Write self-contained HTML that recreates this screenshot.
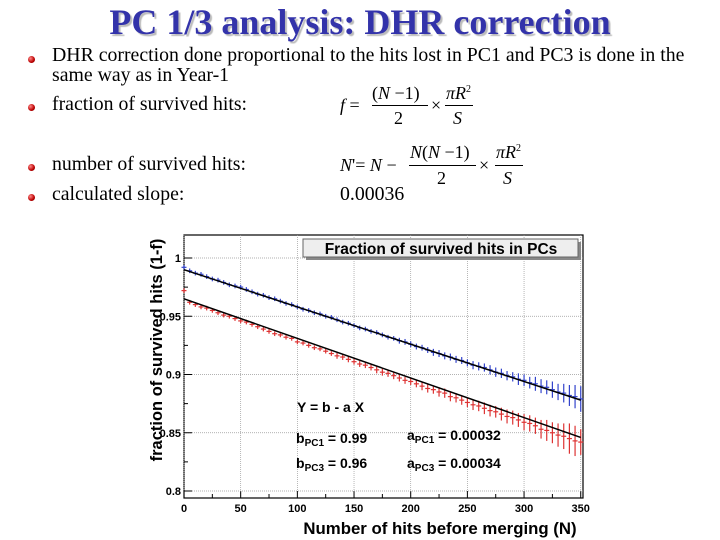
<!DOCTYPE html>
<html><head><meta charset="utf-8"><style>
body{margin:0;width:720px;height:540px;background:#fff;position:relative;overflow:hidden;font-family:"Liberation Serif",serif}
.t{position:absolute;white-space:nowrap;color:#000}
.b{position:absolute;width:7px;height:7px;border-radius:50%;background:radial-gradient(circle at 35% 35%,#f88,#b00 60%,#600)}
.txt{font-size:19.8px;left:52px}
.m{font-family:"Liberation Serif",serif;font-size:18px}
</style></head><body>
<div class="t" style="left:0;width:720px;text-align:center;top:2px;font-size:36px;font-weight:bold;color:#3333aa;text-shadow:2px 2px 1px #bbb;line-height:40px">PC 1/3 analysis: DHR correction</div>
<div class="b" style="left:28px;top:56px"></div>
<div class="t txt" style="top:45px;line-height:20px">DHR correction done proportional to the hits lost in PC1 and PC3 is done in the<br>same way as in Year-1</div>
<div class="b" style="left:28px;top:104px"></div>
<div class="t txt" style="top:93px">fraction of survived hits:</div>
<div class="b" style="left:28px;top:164px"></div>
<div class="t txt" style="top:153px">number of survived hits:</div>
<div class="b" style="left:28px;top:194px"></div>
<div class="t txt" style="top:183px">calculated slope:</div>
<div class="t" style="left:340px;top:183px;font-size:19.8px">0.00036</div>

<div>
<div class="t m" style="left:340px;top:95px"><i>f</i> =</div>
<div class="t m" style="left:372px;top:83px">(<i>N</i> −1)</div>
<div class="t" style="left:372px;top:105px;width:56px;border-top:1px solid #000"></div>
<div class="t m" style="left:394px;top:108px">2</div>
<div class="t m" style="left:431px;top:95px">×</div>
<div class="t m" style="left:446px;top:83px"><i>πR</i><sup style="font-size:10px">2</sup></div>
<div class="t" style="left:445px;top:105px;width:28px;border-top:1px solid #000"></div>
<div class="t m" style="left:453px;top:108px"><i>S</i></div>
</div>
<div>
<div class="t m" style="left:340px;top:155px"><i>N</i>'= <i>N</i> −</div>
<div class="t m" style="left:410px;top:142px"><i>N</i>(<i>N</i> −1)</div>
<div class="t" style="left:409px;top:165px;width:67px;border-top:1px solid #000"></div>
<div class="t m" style="left:437px;top:168px">2</div>
<div class="t m" style="left:479px;top:155px">×</div>
<div class="t m" style="left:496px;top:142px"><i>πR</i><sup style="font-size:10px">2</sup></div>
<div class="t" style="left:495px;top:165px;width:28px;border-top:1px solid #000"></div>
<div class="t m" style="left:503px;top:168px"><i>S</i></div>
</div>

<svg id="chart" width="720" height="540" style="position:absolute;left:0;top:0" font-family="Liberation Sans, sans-serif"></svg>
<script>
const nVals=[0,5,10,15,20,25,30,35,40,45,50,55,60,65,70,75,80,85,90,95,100,105,110,115,120,125,130,135,140,145,150,155,160,165,170,175,180,185,190,195,200,205,210,215,220,225,230,235,240,245,250,255,260,265,270,275,280,285,290,295,300,305,310,315,320,325,330,335,340,345,350];
const pc1Vals=[0.992,0.989,0.987,0.986,0.984,0.982,0.981,0.979,0.977,0.976,0.975,0.973,0.971,0.969,0.968,0.966,0.965,0.963,0.961,0.960,0.958,0.956,0.955,0.953,0.952,0.950,0.949,0.947,0.945,0.944,0.942,0.940,0.939,0.937,0.936,0.934,0.932,0.931,0.929,0.928,0.926,0.924,0.923,0.921,0.919,0.918,0.916,0.915,0.913,0.912,0.910,0.908,0.907,0.906,0.904,0.902,0.901,0.899,0.898,0.896,0.895,0.893,0.892,0.890,0.889,0.887,0.885,0.884,0.882,0.881,0.879];
const pc1Err=[0.001,0.001,0.001,0.001,0.001,0.001,0.001,0.001,0.001,0.001,0.001,0.001,0.001,0.001,0.001,0.001,0.001,0.001,0.001,0.001,0.001,0.001,0.001,0.001,0.001,0.001,0.001,0.001,0.001,0.001,0.001,0.001,0.001,0.001,0.001,0.001,0.001,0.001,0.0015,0.0015,0.0015,0.0015,0.0015,0.0015,0.002,0.002,0.002,0.002,0.002,0.002,0.002,0.0025,0.0025,0.0025,0.003,0.003,0.003,0.003,0.003,0.004,0.004,0.004,0.005,0.005,0.005,0.006,0.006,0.007,0.008,0.009,0.010];
const pc3Vals=[0.972,0.962,0.960,0.958,0.957,0.955,0.953,0.951,0.950,0.948,0.946,0.945,0.943,0.941,0.939,0.937,0.935,0.934,0.932,0.931,0.928,0.927,0.925,0.923,0.922,0.920,0.918,0.916,0.915,0.913,0.911,0.909,0.908,0.906,0.904,0.902,0.901,0.899,0.897,0.895,0.894,0.892,0.890,0.888,0.887,0.885,0.884,0.881,0.880,0.878,0.876,0.874,0.873,0.871,0.869,0.868,0.866,0.864,0.863,0.861,0.859,0.858,0.856,0.853,0.852,0.850,0.848,0.847,0.845,0.843,0.842];
const pc3Err=[0.001,0.001,0.001,0.001,0.001,0.001,0.001,0.001,0.001,0.001,0.001,0.001,0.001,0.001,0.001,0.001,0.001,0.001,0.001,0.001,0.001,0.001,0.001,0.001,0.001,0.001,0.001,0.0015,0.0015,0.0015,0.0015,0.0015,0.0015,0.0015,0.002,0.002,0.002,0.002,0.002,0.002,0.002,0.002,0.0025,0.0025,0.0025,0.003,0.003,0.003,0.003,0.003,0.003,0.0035,0.0035,0.004,0.004,0.004,0.0045,0.005,0.005,0.005,0.006,0.006,0.006,0.007,0.008,0.008,0.009,0.010,0.012,0.012,0.010];
const fitB=[0.99,0.965];
const fitA=[0.00032,0.00034];
const xTicks=[0,50,100,150,200,250,300,350];
const yTicks=[0.8,0.85,0.9,0.95,1];
const yTickLabels=["0.8","0.85","0.9","0.95","1"];

const svg=document.getElementById('chart');
const NS='http://www.w3.org/2000/svg';
const L=184,R=583,T=235,B=498;
const X=v=>L+(v/352)*(R-L);
const Y=v=>258+(1-v)/0.2*233;
function mk(tag,at,par){const e=document.createElementNS(NS,tag);for(const k in at)e.setAttribute(k,at[k]);(par||svg).appendChild(e);return e;}

const frame=mk('rect',{x:L,y:T,width:R-L,height:B-T,fill:'#fff',stroke:'#000','stroke-width':1.2});


xTicks.forEach(t=>{
  const g=mk('line',{x1:X(t),x2:X(t),y1:T,y2:B,stroke:'#999','stroke-dasharray':'1,1','stroke-width':0.7});
  
  
  mk('line',{x1:X(t),x2:X(t),y1:B,y2:B-7,stroke:'#000'});
  const tx=mk('text',{x:X(t),y:512,'font-size':11,'font-weight':'bold','text-anchor':'middle'});
  tx.textContent=t;
  
  
});
for(let t=25;t<352;t+=50){mk('line',{x1:X(t),x2:X(t),y1:B,y2:B-4,stroke:'#000'});}
yTicks.forEach((t,i)=>{
  const g=mk('line',{x1:L,x2:R,y1:Y(t),y2:Y(t),stroke:'#999','stroke-dasharray':'1,1','stroke-width':0.7});
  
  
  mk('line',{x1:L,x2:L+8,y1:Y(t),y2:Y(t),stroke:'#000'});
  const tx=mk('text',{x:181,y:Y(t)+4,'font-size':11,'font-weight':'bold','text-anchor':'end'});
  tx.textContent=yTickLabels[i];
  
  
});
for(let t=0.825;t<1.02;t+=0.05){mk('line',{x1:L,x2:L+4,y1:Y(t),y2:Y(t),stroke:'#000'});}

function series(vals,errs,color,name){
  const g=mk('g',{});
  
  
  vals.forEach((v,i)=>{
    const x=X(nVals[i]);
    mk('line',{x1:x,x2:x,y1:Y(v+errs[i]+0.001),y2:Y(Math.max(v-errs[i]-0.001,0.796)),stroke:color,'stroke-width':1.2},g);
    mk('line',{x1:x-2.5,x2:x+2.5,y1:Y(v),y2:Y(v),stroke:color,'stroke-width':1.2},g);
  });
}
series(pc1Vals,pc1Err,'#3344cc','pc1-points');
series(pc3Vals,pc3Err,'#dd3333','pc3-points');
fitB.forEach((b,i)=>{
  const l=mk('line',{x1:X(0),y1:Y(b),x2:X(350),y2:Y(b-fitA[i]*350),stroke:'#000','stroke-width':1.5});
  
  
});

const lg=mk('g',{});


mk('rect',{x:306,y:242,width:275,height:18,fill:'#888'},lg);
mk('rect',{x:303,y:239,width:275,height:18,fill:'#eee',stroke:'#666'},lg);
const tt=mk('text',{x:441,y:254,'font-size':15.5,'font-weight':'bold','text-anchor':'middle'},lg);
tt.textContent='Fraction of survived hits in PCs';

function txt(x,y,s,name,sz,anchor,rot){
  const t=mk('text',{x:x,y:y,'font-size':sz||14,'font-weight':'bold','text-anchor':anchor||'start'});
  if(rot)t.setAttribute('transform',rot);
  t.innerHTML=s;
  
  
}
txt(297,412,'Y = b - a X','fit-equation');
txt(296,443,'b<tspan font-size="10" dy="3">PC1</tspan><tspan dy="-3"> = 0.99</tspan>','b-pc1-label');
txt(296,468,'b<tspan font-size="10" dy="3">PC3</tspan><tspan dy="-3"> = 0.96</tspan>','b-pc3-label');
txt(407,440,'a<tspan font-size="10" dy="3">PC1</tspan><tspan dy="-3"> = 0.00032</tspan>','a-pc1-label');
txt(407,468,'a<tspan font-size="10" dy="3">PC3</tspan><tspan dy="-3"> = 0.00034</tspan>','a-pc3-label');
txt(440,534,'Number of hits before merging (N)','x-axis-title',16.8,'middle');
txt(162,350,'fraction of survived hits (1-f)','y-axis-title',16.5,'middle','rotate(-90 162 350)');
</script>
</body></html>
